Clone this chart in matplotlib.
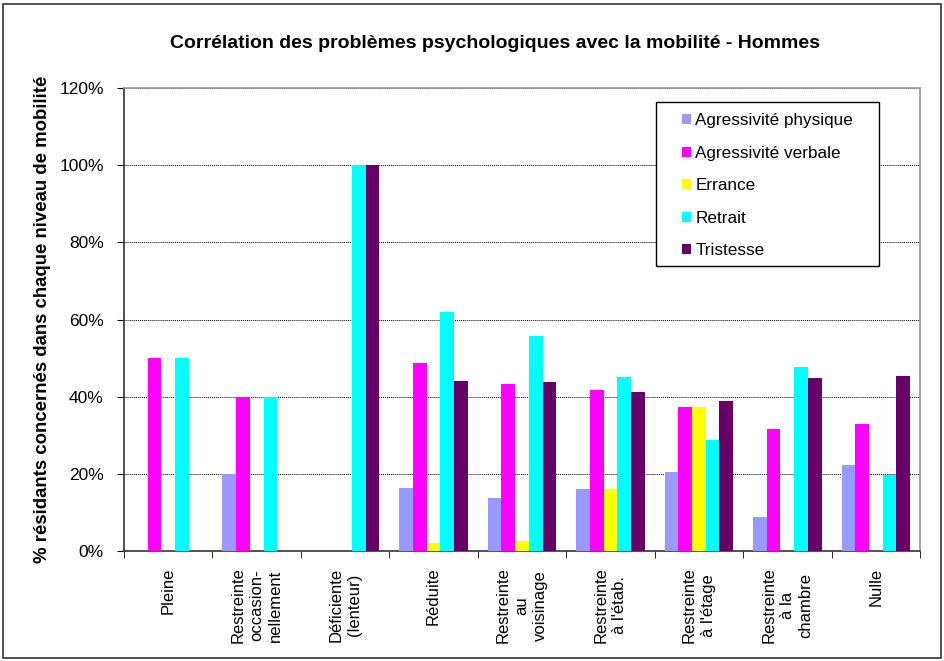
import matplotlib
matplotlib.use("Agg")
import matplotlib.pyplot as plt
import numpy as np
from matplotlib.patches import Rectangle
from matplotlib.ticker import FuncFormatter, FixedLocator

plt.rcParams['font.family'] = ['Liberation Sans', 'DejaVu Sans']

categories = ["Pleine", "Restreinte\noccasion-\nnellement", "Déficiente\n(lenteur)", "Réduite",
              "Restreinte\nau\nvoisinage", "Restreinte\nà l'étab.", "Restreinte\nà l'étage",
              "Restreinte\nà la\nchambre", "Nulle"]
series_names = ["Agressivité physique", "Agressivité verbale", "Errance", "Retrait", "Tristesse"]
agressivite_physique = [0, 20, 0, 16.3, 13.7, 16.0, 20.4, 8.7, 22.3]
agressivite_verbale = [50, 40, 0, 48.6, 43.4, 41.6, 37.4, 31.7, 33.0]
errance = [0, 0, 0, 2.0, 2.6, 16.0, 37.2, 0, 0]
retrait = [50, 40, 100, 62.0, 55.8, 45.1, 28.8, 47.7, 19.6]
tristesse = [0, 0, 100, 44.1, 43.9, 41.2, 38.8, 44.8, 45.4]
colors = ["#9999FF", "#FF00FF", "#FFFF00", "#00FFFF", "#660066"]
y_ticks = [0, 20, 40, 60, 80, 100, 120]

series = [agressivite_physique, agressivite_verbale, errance, retrait, tristesse]

W, H = 944, 661
fig = plt.figure(figsize=(W / 100, H / 100), dpi=100)
ax = fig.add_axes([124 / W, 1 - 551 / H, (920 - 124) / W, (551 - 88) / H])

x = np.arange(len(categories))
w = 0.155
for i, (vals, name, c) in enumerate(zip(series, series_names, colors)):
    ax.bar(x + (i - 2) * w, vals, width=w, color=c, label=name,
           linewidth=0, zorder=3)

ax.set_xlim(-0.5, len(categories) - 0.5)
ax.set_ylim(0, 120)
ax.yaxis.set_major_locator(FixedLocator(y_ticks))
ax.yaxis.set_major_formatter(FuncFormatter(lambda v, p: f"{int(v)}%"))
ax.grid(axis='y', color='black', linestyle=(0, (1, 1)), linewidth=0.7, zorder=0)
ax.tick_params(axis='y', direction='out', length=5, labelsize=12.5, pad=9.5)

ax.set_xticks(x)
ax.set_xticklabels([])
ax.tick_params(axis='x', which='major', length=0)
ax.set_xticks(np.arange(len(categories) + 1) - 0.5, minor=True)
ax.tick_params(axis='x', which='minor', direction='out', length=5)
for xi, lab in zip(x, categories):
    ax.text(xi, -4.3, lab, rotation=90, ha='center', va='top', multialignment='center',
            fontsize=12, transform=ax.transData, linespacing=1.3)

for s in ['top', 'right']:
    ax.spines[s].set_color('#999999')
    ax.spines[s].set_linewidth(1.2)
for s in ['left', 'bottom']:
    ax.spines[s].set_color('#333333')
    ax.spines[s].set_linewidth(1.2)

ax.set_ylabel("% résidants concernés dans chaque niveau de mobilité", fontsize=13.4,
              fontweight='bold', labelpad=6)
fig.suptitle("Corrélation des problèmes psychologiques avec la mobilité - Hommes",
             fontsize=14, fontweight='bold', x=495 / W, y=1 - 43 / H, va='center')

# legend box and entries
fig.patches.append(Rectangle((656 / W, 1 - 266 / H), (879 - 656) / W, (266 - 102) / H,
                             transform=fig.transFigure, fill=True, facecolor='white',
                             edgecolor='black', linewidth=1.0, zorder=4))
leg = fig.legend(loc='upper left', bbox_to_anchor=(682 / W, 1 - 113 / H), fontsize=12.3,
                 frameon=False, handlelength=0.53, handleheight=0.53, handletextpad=0.25,
                 labelspacing=1.03, borderpad=0, borderaxespad=0)
leg.set_zorder(5)

fig.patches.append(Rectangle((0.003, 0.004), 0.994, 0.99, transform=fig.transFigure,
                             fill=False, edgecolor='#333333', linewidth=1.2))

fig.savefig("out.png", dpi=100)
